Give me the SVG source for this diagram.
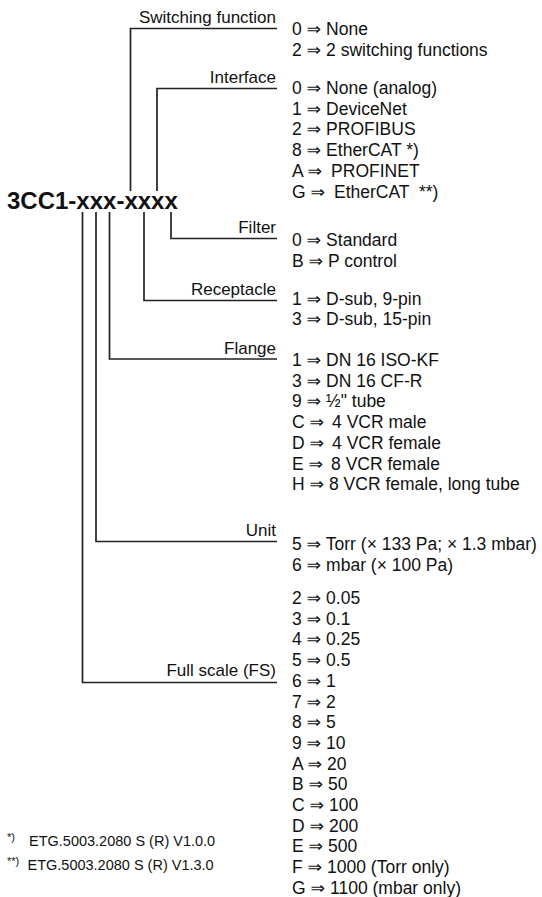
<svg xmlns="http://www.w3.org/2000/svg" width="542" height="897" viewBox="0 0 542 897">
<style>
text{font-family:"Liberation Sans",Arial,"DejaVu Sans",sans-serif;fill:#111}
.lbl{font-size:17px;text-anchor:end}
.it{font-size:17.5px}
.code{font-size:24px;font-weight:bold}
.fn{font-size:14.5px}
.sup{font-size:11px}
.conn path{fill:none;stroke:#222;stroke-width:1.7}
</style>
<rect width="542" height="897" fill="#fff"/>
<g id="code"><text class="code" x="7" y="209">3CC1-xxx-xxxx</text></g>
<g class="conn" id="connectors">
<path d="M130.5 191 V28.5 H277"/>
<path d="M157 191 V88.5 H277"/>
<path d="M171 212 V238.5 H277"/>
<path d="M144 212 V300.5 H277"/>
<path d="M109.5 212 V359 H277"/>
<path d="M96 212 V541.5 H277"/>
<path d="M82.5 212 V682.5 H277"/>
</g>
<g id="switching">
<text class="lbl" x="276" y="22.5">Switching function</text>
<text class="it" x="292" y="35">0 ⇒ None</text>
<text class="it" x="292" y="55.7">2 ⇒ 2 switching functions</text>
</g>
<g id="interface">
<text class="lbl" x="276" y="83">Interface</text>
<text class="it" x="292" y="94">0 ⇒ None (analog)</text>
<text class="it" x="292" y="114.7">1 ⇒ DeviceNet</text>
<text class="it" x="292" y="135.4">2 ⇒ PROFIBUS</text>
<text class="it" x="292" y="156.1">8 ⇒ EtherCAT *)</text>
<text class="it" x="292" y="176.8">A ⇒ <tspan dx="4">PROFINET</tspan></text>
<text class="it" x="292" y="197.5" xml:space="preserve">G ⇒ <tspan dx="4">EtherCAT  **)</tspan></text>
</g>
<g id="filter">
<text class="lbl" x="276" y="233">Filter</text>
<text class="it" x="292" y="246">0 ⇒ Standard</text>
<text class="it" x="292" y="267">B ⇒ P control</text>
</g>
<g id="receptacle">
<text class="lbl" x="276" y="295">Receptacle</text>
<text class="it" x="292" y="304.5">1 ⇒ D-sub, 9-pin</text>
<text class="it" x="292" y="325.2">3 ⇒ D-sub, 15-pin</text>
</g>
<g id="flange">
<text class="lbl" x="276" y="353.5">Flange</text>
<text class="it" x="292" y="366">1 ⇒ DN 16 ISO-KF</text>
<text class="it" x="292" y="386.7">3 ⇒ DN 16 CF-R</text>
<text class="it" x="292" y="407.4">9 ⇒ ½" tube</text>
<text class="it" x="292" y="428.1">C ⇒ <tspan dx="3">4 VCR male</tspan></text>
<text class="it" x="292" y="448.8">D ⇒ <tspan dx="3">4 VCR female</tspan></text>
<text class="it" x="292" y="469.5">E ⇒ <tspan dx="3">8 VCR female</tspan></text>
<text class="it" x="292" y="490.2">H ⇒ 8 VCR female, long tube</text>
</g>
<g id="unit">
<text class="lbl" x="276" y="536">Unit</text>
<text class="it" x="292" y="550">5 ⇒ Torr (× 133 Pa; × 1.3 mbar)</text>
<text class="it" x="292" y="570.7">6 ⇒ mbar (× 100 Pa)</text>
</g>
<g id="fullscale">
<text class="lbl" x="276" y="676">Full scale (FS)</text>
<text class="it" x="292" y="604">2 ⇒ 0.05</text>
<text class="it" x="292" y="624.7">3 ⇒ 0.1</text>
<text class="it" x="292" y="645.4">4 ⇒ 0.25</text>
<text class="it" x="292" y="666.1">5 ⇒ 0.5</text>
<text class="it" x="292" y="686.8">6 ⇒ 1</text>
<text class="it" x="292" y="707.5">7 ⇒ 2</text>
<text class="it" x="292" y="728.2">8 ⇒ 5</text>
<text class="it" x="292" y="748.9">9 ⇒ 10</text>
<text class="it" x="292" y="769.6">A ⇒ 20</text>
<text class="it" x="292" y="790.3">B ⇒ 50</text>
<text class="it" x="292" y="811">C ⇒ 100</text>
<text class="it" x="292" y="831.7">D ⇒ 200</text>
<text class="it" x="292" y="852.4">E ⇒ 500</text>
<text class="it" x="292" y="873.1">F ⇒ 1000 (Torr only)</text>
<text class="it" x="292" y="893.8">G ⇒ 1100 (mbar only)</text>
</g>
<g id="footnotes">
<text class="sup" x="7" y="841">*)</text>
<text class="fn" x="29" y="846">ETG.5003.2080 S (R) V1.0.0</text>
<text class="sup" x="7" y="865">**)</text>
<text class="fn" x="27.5" y="870">ETG.5003.2080 S (R) V1.3.0</text>
</g>
</svg>
